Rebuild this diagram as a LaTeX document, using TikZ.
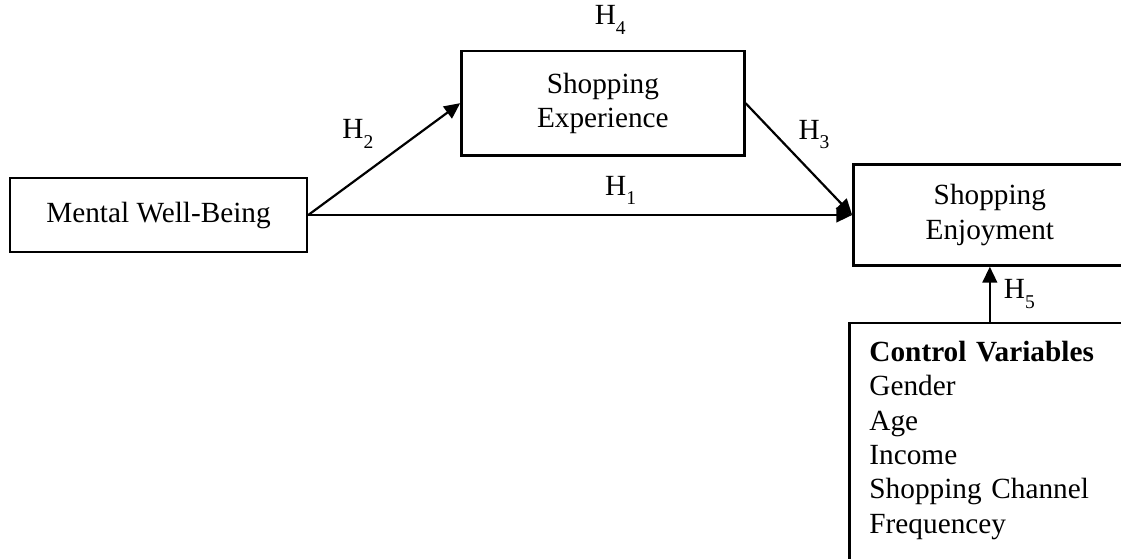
\documentclass[tikz,border=0pt]{standalone}
\usepackage{fontspec}
\setmainfont{Liberation Serif}
\usetikzlibrary{arrows.meta,positioning}

\newcommand{\hyp}[1]{H\raisebox{-4pt}{\fontsize{8}{9}\selectfont #1}}

\begin{document}
\begin{tikzpicture}[
  x=0.41pt, y=-0.41pt,
  construct/.style={draw,line width=1pt,align=center,inner sep=0pt,font=\fontsize{12}{14.1}\selectfont},
  effect/.style={line width=0.9pt,-{Triangle[length=6.5pt,width=6pt]}},
  hlabel/.style={font=\fontsize{12}{14}\selectfont,inner sep=0pt,anchor=base west}
]
  \useasboundingbox (0,0) rectangle (1121,558);
  \clip (0,0) rectangle (1121,558);

  \node[construct,minimum width=121.8pt,minimum height=30.3pt] (wellbeing) at (158.5,215) {Mental Well-Being};
  \node[construct,minimum width=116pt,minimum height=43pt,above right=8.2pt and 62.3pt of wellbeing] (experience) {Shopping\\Experience};
  \node[construct,minimum width=111.9pt,minimum height=41.4pt,right=223pt of wellbeing] (enjoyment) {Shopping\\Enjoyment};
  \node[construct,align=left,text width=102.6pt,inner xsep=8.2pt,inner ysep=7.4pt,
    below right=22.55pt and -1.6pt of enjoyment.south west] (controls)
    {\textbf{Control Variables}\\Gender\\Age\\Income\\Shopping Channel\\Frequencey\\ \strut};

  \draw[effect] (wellbeing.east) -- node[hlabel,pos=0.544,yshift=8.2pt] {\hyp{1}} (enjoyment.west);
  \draw[effect] (wellbeing.east) -- node[hlabel,xshift=-17.6pt,yshift=8.3pt] {\hyp{2}} (experience.west);
  \draw[effect] (experience.east) -- node[hlabel,xshift=-0.6pt,yshift=8.2pt] {\hyp{3}} (enjoyment.west);
  \draw[effect] (controls.north -| enjoyment.south) -- node[hlabel,xshift=5.3pt,yshift=-1.8pt] {\hyp{5}} (enjoyment.south);
  \node[hlabel] (h4) at ([shift={(-3.5pt,10.25pt)}]experience.north) {\hyp{4}};
\end{tikzpicture}
\end{document}
